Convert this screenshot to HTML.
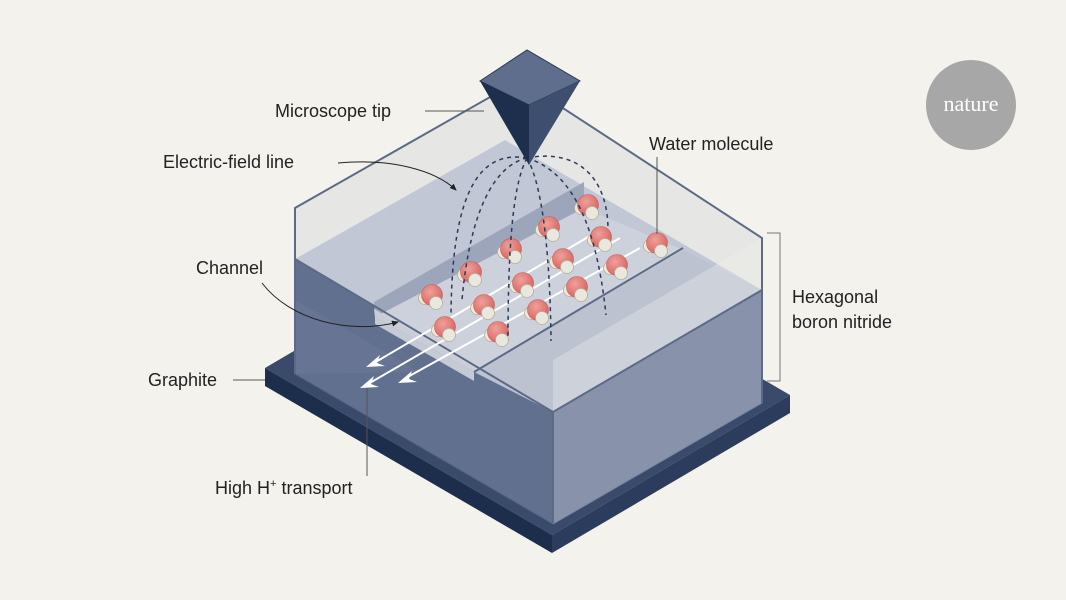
<!DOCTYPE html>
<html><head><meta charset="utf-8"><style>
html,body{margin:0;padding:0;background:#f4f2ec;}
svg{display:block}
text{font-family:"Liberation Sans",sans-serif;font-size:18px;fill:#222;}
</style></head><body>
<svg width="1066" height="600" viewBox="0 0 1066 600" xmlns="http://www.w3.org/2000/svg">
<defs>
<radialGradient id="o" cx="0.4" cy="0.35" r="0.7"><stop offset="0" stop-color="#f0a09a"/><stop offset="1" stop-color="#d6625f"/></radialGradient>
<marker id="ah" markerWidth="8" markerHeight="8" refX="6" refY="4" orient="auto"><path d="M0,1 L7,4 L0,7 Z" fill="#222"/></marker>
<g id="mol">
<circle cx="-7" cy="3" r="6.5" fill="#ebe8dc" stroke="#b8ae92" stroke-width="0.8"/>
<circle cx="0" cy="0" r="10.5" fill="url(#o)" stroke="#c45a57" stroke-width="0.6"/>
<circle cx="4" cy="8" r="6.5" fill="#e9e8e0" stroke="#b8ae92" stroke-width="0.8"/>
</g>
</defs>
<rect width="1066" height="600" fill="#f4f2ec"/>
<!-- base -->
<polygon points="265,368 503,228 790,395 552,535" fill="#3a4a6a"/>
<polygon points="265,368 552,535 552,553 265,386" fill="#1d2d4c"/>
<polygon points="552,535 790,395 790,413 552,553" fill="#2c3c5c"/>
<!-- glass back -->
<polygon points="295,208 520,80 762,238 762,290 505,140 295,259" fill="#e6e7e4"/>
<!-- hBN faces -->
<polygon points="295,259 553,412 553,524 295,374" fill="#627090"/>
<polygon points="295,300 420,372 295,374" fill="#6b7896" opacity="0.5"/>
<polygon points="553,412 762,290 762,403 553,524" fill="#8893ab"/>
<!-- top surface -->
<polygon points="295,259 505,140 762,290 553,412" fill="#c1c7d4"/>
<!-- right raised lighter area -->
<polygon points="474,372 683,250 762,290 553,412" fill="#bcc2d0"/>
<!-- channel wall -->
<polygon points="374,302 584,182 584,208 375,317" fill="#9ca5ba"/>
<!-- channel floor -->
<polygon points="375,317 584,208 683,250 474,372" fill="#ccd1dc"/>
<!-- front notch -->
<polygon points="374,309 375,317 474,372 474,381 474,368" fill="#c9cdd8"/>
<polygon points="375,317 474,372 474,381 375,324" fill="#c6cad5"/>
<!-- glass front tints -->
<polygon points="553,360 762,238 762,290 553,412" fill="#eeeeea" opacity="0.35"/>
<!-- outlines -->
<g fill="none" stroke="#5d6a85" stroke-width="2">
<polyline points="295,374 295,208 520,80 762,238 762,403"/>
<polyline points="295,259 553,412 762,290"/>
<line x1="553" y1="412" x2="553" y2="524"/>
<line x1="474" y1="372" x2="683" y2="248"/>
</g>
<line x1="295" y1="374" x2="553" y2="524" stroke="#56637f" stroke-width="1"/>
<line x1="553" y1="524" x2="762" y2="403" stroke="#7a86a0" stroke-width="1"/>
<!-- white channel lines/arrows -->
<g stroke="#fff" stroke-width="2" fill="none">
<line x1="600" y1="230" x2="374" y2="363"/>
<line x1="620" y1="238" x2="368" y2="384"/>
<line x1="640" y1="248" x2="404" y2="379"/>
</g>
<g fill="#fff">
<polygon points="366,367 380,355 377,363 385,366"/>
<polygon points="360,388 374,376 371,384 379,387"/>
<polygon points="398,383 412,371 409,379 417,382"/>
</g>
<!-- molecules -->
<use href="#mol" x="588" y="205"/>
<use href="#mol" x="549" y="227"/>
<use href="#mol" x="601" y="237"/>
<use href="#mol" x="657" y="243"/>
<use href="#mol" x="511" y="249"/>
<use href="#mol" x="563" y="259"/>
<use href="#mol" x="617" y="265"/>
<use href="#mol" x="471" y="272"/>
<use href="#mol" x="523" y="283"/>
<use href="#mol" x="577" y="287"/>
<use href="#mol" x="432" y="295"/>
<use href="#mol" x="484" y="305"/>
<use href="#mol" x="538" y="310"/>
<use href="#mol" x="445" y="327"/>
<use href="#mol" x="498" y="332"/>
<!-- field lines -->
<g fill="none" stroke="#2a3a58" stroke-width="1.5" stroke-dasharray="4,4">
<path d="M527,158 C480,150 452,190 451,315"/>
<path d="M527,158 C495,165 470,210 462,300"/>
<path d="M527,158 C515,180 508,230 508,340"/>
<path d="M527,158 C540,180 550,240 551,341"/>
<path d="M527,158 C565,170 595,210 606,315"/>
<path d="M527,158 C580,148 608,180 608,230"/>
</g>
<!-- tip -->
<polygon points="480,81 527,50 580,81 529,105" fill="#5f6e8c" stroke="#2a3a58" stroke-width="1"/>
<polygon points="480,81 529,105 529,165" fill="#1e2f4d"/>
<polygon points="529,105 580,81 529,165" fill="#3e4e6e"/>
<!-- labels -->
<text x="275" y="117">Microscope tip</text>
<line x1="425" y1="111" x2="484" y2="111" stroke="#555" stroke-width="1"/>
<text x="163" y="168">Electric-field line</text>
<path d="M338,163 C390,158 435,170 456,190" fill="none" stroke="#222" stroke-width="1" marker-end="url(#ah)"/>
<text x="649" y="150">Water molecule</text>
<line x1="657" y1="157" x2="657" y2="234" stroke="#555" stroke-width="1"/>
<text x="196" y="274">Channel</text>
<path d="M262,283 C290,320 350,335 398,322" fill="none" stroke="#222" stroke-width="1" marker-end="url(#ah)"/>
<text x="792" y="303">Hexagonal</text>
<text x="792" y="328">boron nitride</text>
<polyline points="767,233 780,233 780,381 767,381" fill="none" stroke="#777" stroke-width="1"/>
<text x="148" y="386">Graphite</text>
<line x1="233" y1="380" x2="265" y2="380" stroke="#555" stroke-width="1"/>
<text x="215" y="494">High H<tspan dy="-7" font-size="11">+</tspan><tspan dy="7"> transport</tspan></text>
<line x1="367" y1="388" x2="367" y2="476" stroke="#555" stroke-width="1"/>
<!-- nature logo -->
<circle cx="971" cy="105" r="45" fill="#a7a7a7"/>
<text x="971" y="111" text-anchor="middle" style="font-family:'Liberation Serif',serif;font-size:22px;fill:#fff">nature</text>
</svg>
</body></html>
